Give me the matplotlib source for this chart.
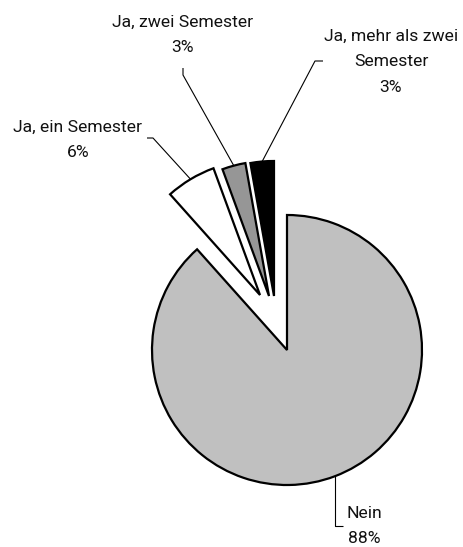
import numpy as np
import matplotlib
matplotlib.use("Agg")
import matplotlib.pyplot as plt
from matplotlib import font_manager

# data
labels = ["Nein", "Ja, ein Semester", "Ja, zwei Semester", "Ja, mehr als zwei\nSemester"]
values = [88.4, 6.0, 2.8, 2.8]
colors = ["#c0c0c0", "#ffffff", "#969696", "#000000"]
# pulled-out slices, shift in pixels (dx, dy with y downwards)
shifts = [(0, 0), (-27, -55), (-18, -54), (-13, -54)]

W, H = 464, 547

names = {f.name for f in font_manager.fontManager.ttflist}
if "Liberation Sans Narrow" in names:
    fam, fs, ls = "Liberation Sans Narrow", 14.8, 1.5
elif "Roboto" in names:
    fam, fs, ls = "Roboto", 12.6, 1.85
else:
    fam, fs, ls = "Liberation Sans", 12.4, 1.8

fig = plt.figure(figsize=(W / 100, H / 100), dpi=100)
ax = fig.add_axes([0, 0, 1, 1])

def Y(y):
    # pixel row -> data y
    return H - y

cx, cy, R = 287, Y(350), 135
wedges, _ = ax.pie(values, colors=colors, startangle=90, counterclock=False,
                   center=(cx, cy), radius=R,
                   wedgeprops=dict(edgecolor="black", linewidth=1.6))
for w, (dx, dy) in zip(wedges, shifts):
    w.set_center((cx + dx, cy - dy))

ax.set_xlim(0, W)
ax.set_ylim(0, H)
ax.set_aspect("equal")
ax.axis("off")

def arc_mid(w):
    a = np.deg2rad((w.theta1 + w.theta2) / 2)
    return w.center[0] + w.r * np.cos(a), w.center[1] + w.r * np.sin(a)

# label text positions (x center, y center in pixel rows) and leader elbows
text_pos = [(364, 526), (78, 140), (183, 35), (391, 62)]
elbows = [
    [(343, 526), (333, 526)],
    [(147, 138), (153, 138)],
    [(183, 68), (183, 75)],
    [(323, 61), (315, 61)],
]

for w, lab, v, (tx, ty), pts in zip(wedges, labels, values, text_pos, elbows):
    ax.text(tx, Y(ty), f"{lab}\n{v:.0f}%", ha="center", va="center",
            multialignment="center", fontsize=fs, family=fam,
            linespacing=ls, color="#111111")
    mx, my = arc_mid(w)
    xs = [p[0] for p in pts] + [mx]
    ys = [Y(p[1]) for p in pts] + [my]
    if lab == "Nein":
        xs[-2] = mx
        xs[-1] = mx
    ax.plot(xs, ys, color="black", lw=0.8, solid_capstyle="butt")

fig.savefig("out.png", dpi=100)
